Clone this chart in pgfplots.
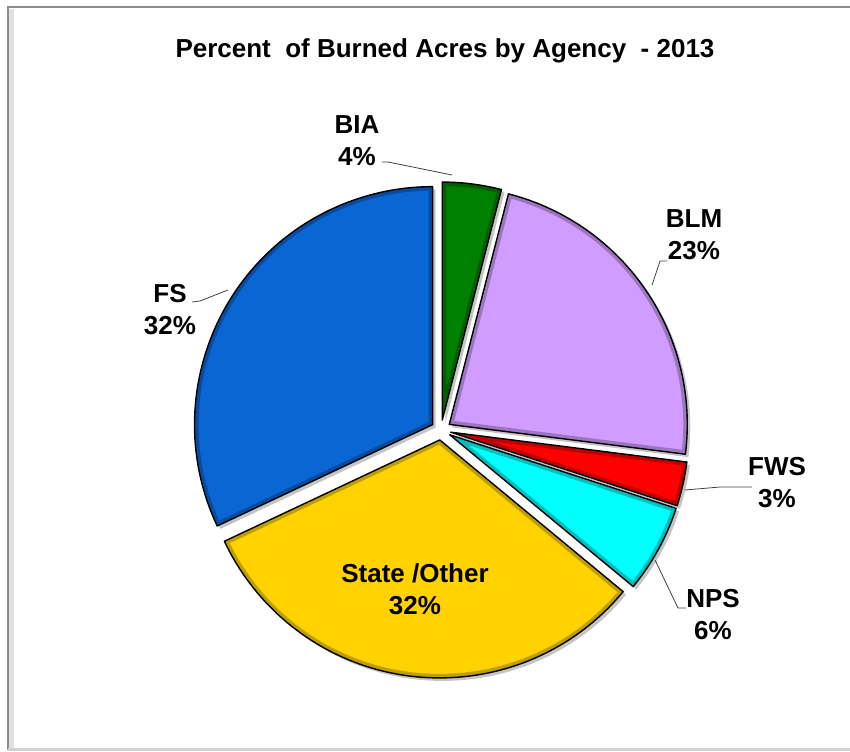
\documentclass[border=0pt]{standalone}
\usepackage{pgfplots}
\usepackage{pgfplotstable}
\pgfplotsset{compat=1.18}
\usepackage{fontspec}
\setmainfont{Liberation Sans}

\definecolor{colBIA}{HTML}{008000}
\definecolor{colBLM}{HTML}{D09CFF}
\definecolor{colFWS}{HTML}{FF0000}
\definecolor{colNPS}{HTML}{00FFFF}
\definecolor{colSTA}{HTML}{FFD200}
\definecolor{colFS}{HTML}{0A66D2}
\definecolor{leader}{HTML}{404040}

% share of burned acres, clockwise from 12 o'clock
\pgfplotstableread{
name pct col
BIA  4  colBIA
BLM  23 colBLM
FWS  3  colFWS
NPS  6  colNPS
STA  32 colSTA
FS   32 colFS
}\agency

% centre of the pie (axis units = pixels), radius and explode distance
\def\pcx{441}
\def\pcy{321}
\def\prad{119pt}
\def\pexp{10}

% #1 start angle, #2 end angle, #3 slice centre x, #4 slice centre y, #5 colour
\newcommand\pieslice[5]{%
  \fill[black!45, opacity=0.5] ([xshift=1.5pt,yshift=-1.5pt]axis cs:#3,#4) -- ++(#1:\prad)
     arc[start angle=#1, end angle=#2, radius=\prad] -- cycle;
  \fill[#5] (axis cs:#3,#4) -- ++(#1:\prad)
     arc[start angle=#1, end angle=#2, radius=\prad] -- cycle;
  \begin{scope}
    \clip (axis cs:#3,#4) -- ++(#1:\prad)
       arc[start angle=#1, end angle=#2, radius=\prad] -- cycle;
    \draw[#5!55!black, opacity=0.55, line width=4pt] (axis cs:#3,#4) -- ++(#1:\prad)
       arc[start angle=#1, end angle=#2, radius=\prad] -- cycle;
  \end{scope}
  \draw[black, line width=0.7pt, line join=round] (axis cs:#3,#4) -- ++(#1:\prad)
     arc[start angle=#1, end angle=#2, radius=\prad] -- cycle;
}

\begin{document}
\begin{tikzpicture}
\begin{axis}[
  scale only axis, width=425pt, height=375.5pt,
  xmin=0, xmax=850, ymin=0, ymax=751,
  axis lines=none, clip=false,
]
% chart frame
\draw[black!12, line width=3pt] (axis cs:11,2) -- (axis cs:11,742);
\draw[black!45, line width=1.2pt] (axis cs:8,1.5) -- (axis cs:8,744) -- (axis cs:852,744);
\draw[black!18, line width=1.2pt] (axis cs:8,1.5) -- (axis cs:852,1.5);

% slices
\pgfplotstablegetrowsof{\agency}
\pgfmathtruncatemacro\lastrow{\pgfplotsretval-1}
\def\startang{90}
\pgfplotsforeachungrouped \i in {0,...,\lastrow}{%
  \pgfplotstablegetelem{\i}{pct}\of\agency
  \let\p\pgfplotsretval
  \pgfplotstablegetelem{\i}{col}\of\agency
  \let\c\pgfplotsretval
  \pgfmathsetmacro\endang{\startang-3.6*\p}
  \pgfmathsetmacro\midang{(\startang+\endang)/2}
  \pgfmathsetmacro\sx{\pcx+\pexp*cos(\midang)}
  \pgfmathsetmacro\sy{\pcy+\pexp*sin(\midang)}
  \edef\cmd{\noexpand\pieslice{\startang}{\endang}{\sx}{\sy}{\c}}%
  \cmd
  \global\let\startang\endang
}

% leader lines
\draw[leader, line width=0.4pt] (axis cs:382,589) -- (axis cs:388,589) -- (axis cs:452,576);
\draw[leader, line width=0.4pt] (axis cs:667,490) -- (axis cs:660,490) -- (axis cs:652,466);
\draw[leader, line width=0.4pt] (axis cs:752,264) -- (axis cs:720,264) -- (axis cs:685,261);
\draw[leader, line width=0.4pt] (axis cs:686,143) -- (axis cs:678,143) -- (axis cs:655,191);
\draw[leader, line width=0.4pt] (axis cs:192,449) -- (axis cs:200,450) -- (axis cs:228,461);

% labels
\tikzset{lab/.style={font=\bfseries\fontsize{13}{16}\selectfont, align=center, text=black}}
\node[lab] at (axis cs:445,700) {Percent\ \ of Burned Acres by Agency\ \ - 2013};
\node[lab] at (axis cs:357,610) {BIA\\4\%};
\node[lab] at (axis cs:694,516) {BLM\\23\%};
\node[lab] at (axis cs:777,268) {FWS\\3\%};
\node[lab] at (axis cs:713,136) {NPS\\6\%};
\node[lab] at (axis cs:170,441) {FS\\32\%};
\node[lab] at (axis cs:415,162) {State /Other\\32\%};
\end{axis}
\pgfresetboundingbox
\useasboundingbox (0,0) rectangle (425pt,375.5pt);
\end{tikzpicture}
\end{document}
